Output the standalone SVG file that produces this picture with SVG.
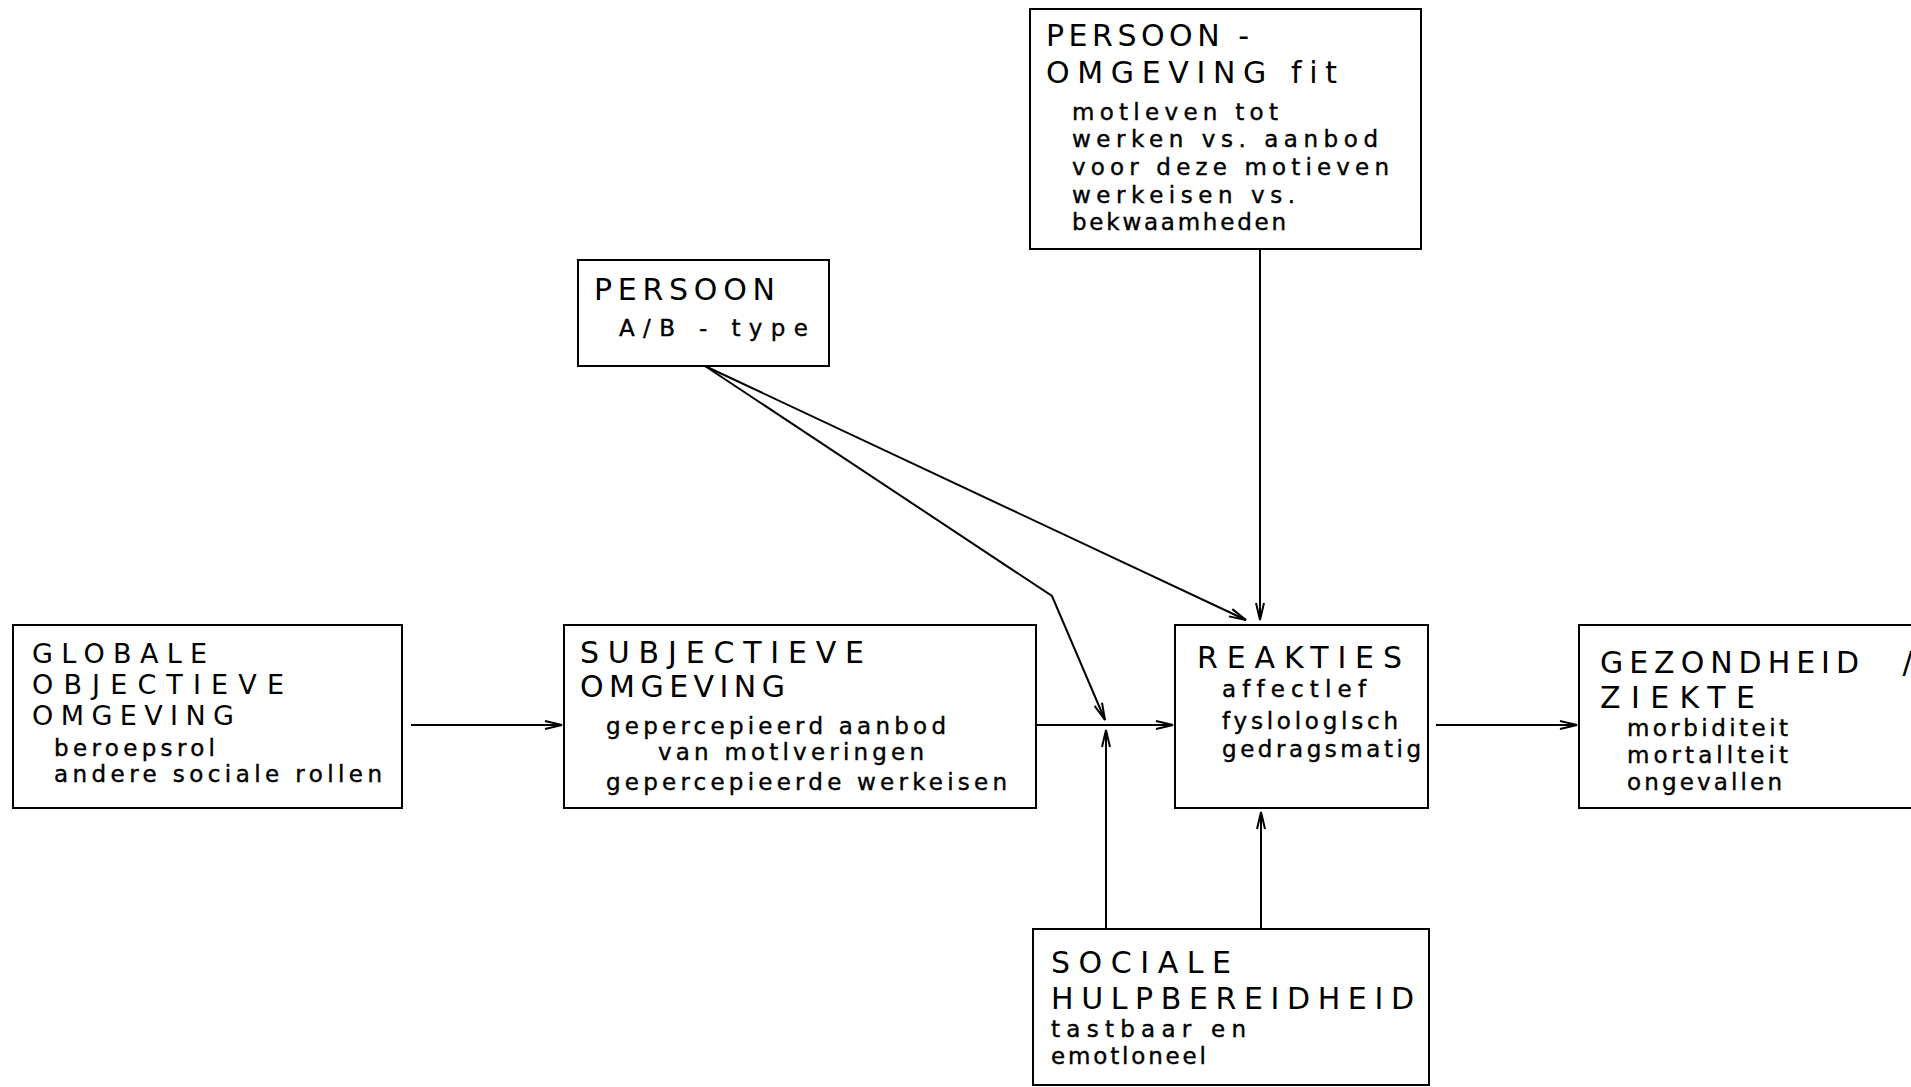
<svg xmlns="http://www.w3.org/2000/svg" width="1911" height="1087" viewBox="0 0 1911 1087">
<style>
text{font-variant-ligatures:none;font-feature-settings:"liga" 0,"clig" 0}
.box{fill:#fff;stroke:#000;stroke-width:2}
.t{font-family:"DejaVu Sans","Liberation Sans",sans-serif;font-size:30px;fill:#000}
.g{font-size:27px}
.s{font-family:"DejaVu Sans","Liberation Sans",sans-serif;font-size:23px;fill:#000;stroke:#000;stroke-width:0.4}
.c{fill:none;stroke:#000;stroke-width:2}
</style>
<defs>
<marker id="ah" markerUnits="userSpaceOnUse" markerWidth="20" markerHeight="12" viewBox="-18 -6 20 12" refX="0" refY="0" orient="auto">
<path d="M-17,-4 L0,0 L-17,4" fill="none" stroke="#000" stroke-width="2"/>
</marker>
</defs>
<rect width="1911" height="1087" fill="#fff"/>
<g id="connectors">
<line class="c" x1="411" y1="725" x2="562" y2="725" marker-end="url(#ah)"/>
<line class="c" x1="1036" y1="725" x2="1173" y2="725" marker-end="url(#ah)"/>
<line class="c" x1="1436" y1="725" x2="1577" y2="725" marker-end="url(#ah)"/>
<line class="c" x1="1260" y1="249" x2="1260" y2="620" marker-end="url(#ah)"/>
<line class="c" x1="705" y1="366" x2="1246" y2="620" marker-end="url(#ah)"/>
<polyline class="c" points="705,366 1052,596 1105,720" marker-end="url(#ah)"/>
<line class="c" x1="1106" y1="929" x2="1106" y2="730" marker-end="url(#ah)"/>
<line class="c" x1="1261" y1="929" x2="1261" y2="812" marker-end="url(#ah)"/>
</g>
<g id="node-pof">
<rect class="box" x="1030" y="9" width="391" height="240"/>
<text class="t" x="1046" y="46" textLength="203" lengthAdjust="spacing">PERSOON -</text>
<text class="t" x="1046" y="83" textLength="291" lengthAdjust="spacing">OMGEVING fit</text>
<text class="s" x="1072" y="120" textLength="206" lengthAdjust="spacing">motleven tot</text>
<text class="s" x="1072" y="147" textLength="306" lengthAdjust="spacing">werken vs. aanbod</text>
<text class="s" x="1072" y="175" textLength="317" lengthAdjust="spacing">voor deze motieven</text>
<text class="s" x="1072" y="203" textLength="223" lengthAdjust="spacing">werkeisen vs.</text>
<text class="s" x="1072" y="230" textLength="214" lengthAdjust="spacing">bekwaamheden</text>
</g>
<g id="node-persoon">
<rect class="box" x="578" y="260" width="251" height="106"/>
<text class="t" x="594" y="300" textLength="181" lengthAdjust="spacing">PERSOON</text>
<text class="s" x="619" y="336" textLength="189" lengthAdjust="spacing">A/B - type</text>
</g>
<g id="node-globale">
<rect class="box" x="13" y="625" width="389" height="183"/>
<text class="t g" x="32" y="663" textLength="175" lengthAdjust="spacing">GLOBALE</text>
<text class="t g" x="32" y="694" textLength="252" lengthAdjust="spacing">OBJECTIEVE</text>
<text class="t g" x="32" y="725" textLength="202" lengthAdjust="spacing">OMGEVING</text>
<text class="s" x="54" y="756" textLength="161" lengthAdjust="spacing">beroepsrol</text>
<text class="s" x="54" y="782" textLength="328" lengthAdjust="spacing">andere sociale rollen</text>
</g>
<g id="node-subj">
<rect class="box" x="564" y="625" width="472" height="183"/>
<text class="t" x="580" y="663" textLength="284" lengthAdjust="spacing">SUBJECTIEVE</text>
<text class="t" x="580" y="697" textLength="205" lengthAdjust="spacing">OMGEVING</text>
<text class="s" x="606" y="734" textLength="340" lengthAdjust="spacing">gepercepieerd aanbod</text>
<text class="s" x="658" y="760" textLength="266" lengthAdjust="spacing">van motlveringen</text>
<text class="s" x="606" y="790" textLength="401" lengthAdjust="spacing">gepercepieerde werkeisen</text>
</g>
<g id="node-reakties">
<rect class="box" x="1175" y="625" width="253" height="183"/>
<text class="t" x="1197" y="668" textLength="205" lengthAdjust="spacing">REAKTIES</text>
<text class="s" x="1222" y="697" textLength="144" lengthAdjust="spacing">affectlef</text>
<text class="s" x="1222" y="729" textLength="176" lengthAdjust="spacing">fyslologlsch</text>
<text class="s" x="1222" y="757" textLength="199" lengthAdjust="spacing">gedragsmatig</text>
</g>
<g id="node-gezondheid">
<rect class="box" x="1579" y="625" width="340" height="183"/>
<text class="t" x="1600" y="673"><tspan textLength="259" lengthAdjust="spacing">GEZONDHEID</tspan><tspan x="1893"> /</tspan></text>
<text class="t" x="1600" y="708" textLength="155" lengthAdjust="spacing">ZIEKTE</text>
<text class="s" x="1627" y="736" textLength="161" lengthAdjust="spacing">morbiditeit</text>
<text class="s" x="1627" y="763" textLength="161" lengthAdjust="spacing">mortallteit</text>
<text class="s" x="1627" y="790" textLength="155" lengthAdjust="spacing">ongevallen</text>
</g>
<g id="node-sociale">
<rect class="box" x="1033" y="929" width="396" height="156"/>
<text class="t" x="1051" y="973" textLength="180" lengthAdjust="spacing">SOCIALE</text>
<text class="t" x="1051" y="1009" textLength="363" lengthAdjust="spacing">HULPBEREIDHEID</text>
<text class="s" x="1051" y="1037" textLength="195" lengthAdjust="spacing">tastbaar en</text>
<text class="s" x="1051" y="1064" textLength="155" lengthAdjust="spacing">emotloneel</text>
</g>
</svg>
